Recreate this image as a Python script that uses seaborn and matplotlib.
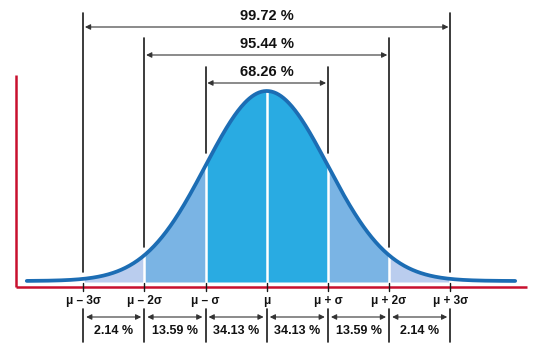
import numpy as np
import pandas as pd
import matplotlib
matplotlib.use('Agg')
import matplotlib.pyplot as plt
import seaborn as sns

# --- chart data ---
mu = 0.0
sigma = 1.0
sigma_steps = [-3, -2, -1, 0, 1, 2, 3]
tick_labels = ['μ – 3σ', 'μ – 2σ', 'μ – σ', 'μ', 'μ + σ', 'μ + 2σ', 'μ + 3σ']
band_labels = ['2.14 %', '13.59 %', '34.13 %', '34.13 %', '13.59 %', '2.14 %']
range_steps = [1, 2, 3]
range_labels = ['68.26 %', '95.44 %', '99.72 %']
curve_start, curve_end = -3.92, 4.06

sns.set_theme(style='white')
plt.rcParams['font.family'] = ['Liberation Sans', 'DejaVu Sans']

def pdf(z):
    return np.exp(-0.5 * ((z - mu) / sigma) ** 2) / (sigma * np.sqrt(2 * np.pi))

xs = np.linspace(curve_start, curve_end, 600)
curve = pd.DataFrame({'x': xs, 'y': pdf(xs)})

# pixel -> data helpers (layout only)
px_mu, px_sig = 266.7, 61.2
k = pdf(mu) / (281 - 91)
def ydat(py):
    return (281 - py) * k
def xdat(px):
    return (px - px_mu) / px_sig

fig = plt.figure(figsize=(5.41, 3.58), dpi=100)
ax = fig.add_axes([0, 0, 1, 1])
ax.set_xlim(xdat(0), xdat(541))
ax.set_ylim(ydat(358), ydat(0))
ax.axis('off')

fill_colors = {1: '#29ABE2', 2: '#7AB4E4', 3: '#BACDEE'}
base = ydat(282)
for lo, hi in zip(sigma_steps[:-1], sigma_steps[1:]):
    level = max(abs(lo), abs(hi))
    seg = np.linspace(lo, hi, 100)
    ax.fill_between(seg, base, pdf(seg), color=fill_colors[level], lw=0, zorder=1)

# white separators inside the fill, black guides above the curve
guide_top = {1: ydat(67), 2: ydat(38), 3: ydat(13)}
guide_end = {1: ydat(153), 2: ydat(247), 3: ydat(272)}
for s in sigma_steps:
    ax.plot([s, s], [base, pdf(s)], color='white', lw=1.8, zorder=2)
    if s != 0:
        ax.plot([s, s], [guide_end[abs(s)], guide_top[abs(s)]], color='#1a1a1a', lw=1.2, zorder=2)

sns.lineplot(data=curve, x='x', y='y', color='#1C6DB4', lw=2.7, ax=ax, zorder=4)
ax.set_xlabel('')
ax.set_ylabel('')

# red axes
red = '#C8102E'
ax.plot([xdat(16), xdat(16)], [ydat(75), ydat(287)], color=red, lw=1.8, zorder=3, solid_capstyle='butt')
ax.plot([xdat(16), xdat(527)], [ydat(287), ydat(287)], color=red, lw=1.8, zorder=3, solid_capstyle='butt')

arrow_kw = dict(arrowstyle='<|-|>', color='#333333', lw=0.8, mutation_scale=8,
                shrinkA=0, shrinkB=0)

# range arrows on top
arrow_y = {1: ydat(83), 2: ydat(55), 3: ydat(27)}
text_y = {1: ydat(72), 2: ydat(44), 3: ydat(16)}
for s, lab in zip(range_steps, range_labels):
    ax.annotate('', xy=(mu + s * sigma - 0.03, arrow_y[s]), xytext=(mu - s * sigma + 0.03, arrow_y[s]),
                arrowprops=arrow_kw, zorder=3)
    ax.text(mu, text_y[s], lab, ha='center', va='center', fontsize=10.5,
            fontweight='bold', color='#111111')

# ticks and tick labels
for s, lab in zip(sigma_steps, tick_labels):
    ax.plot([s, s], [ydat(283), ydat(291)], color='#1a1a1a', lw=1.0, zorder=3)
    ax.text(s, ydat(301), lab, ha='center', va='center', fontsize=8.5,
            fontweight='bold', color='#111111')
    ax.plot([s, s], [ydat(309), ydat(342)], color='#1a1a1a', lw=1.2, zorder=3)

# band percentages
for lo, hi, lab in zip(sigma_steps[:-1], sigma_steps[1:], band_labels):
    ax.annotate('', xy=(hi - 0.05, ydat(317)), xytext=(lo + 0.05, ydat(317)),
                arrowprops=arrow_kw, zorder=3)
    ax.text((lo + hi) / 2, ydat(331), lab, ha='center', va='center', fontsize=9,
            fontweight='bold', color='#111111')

fig.savefig('out.png', dpi=100)
